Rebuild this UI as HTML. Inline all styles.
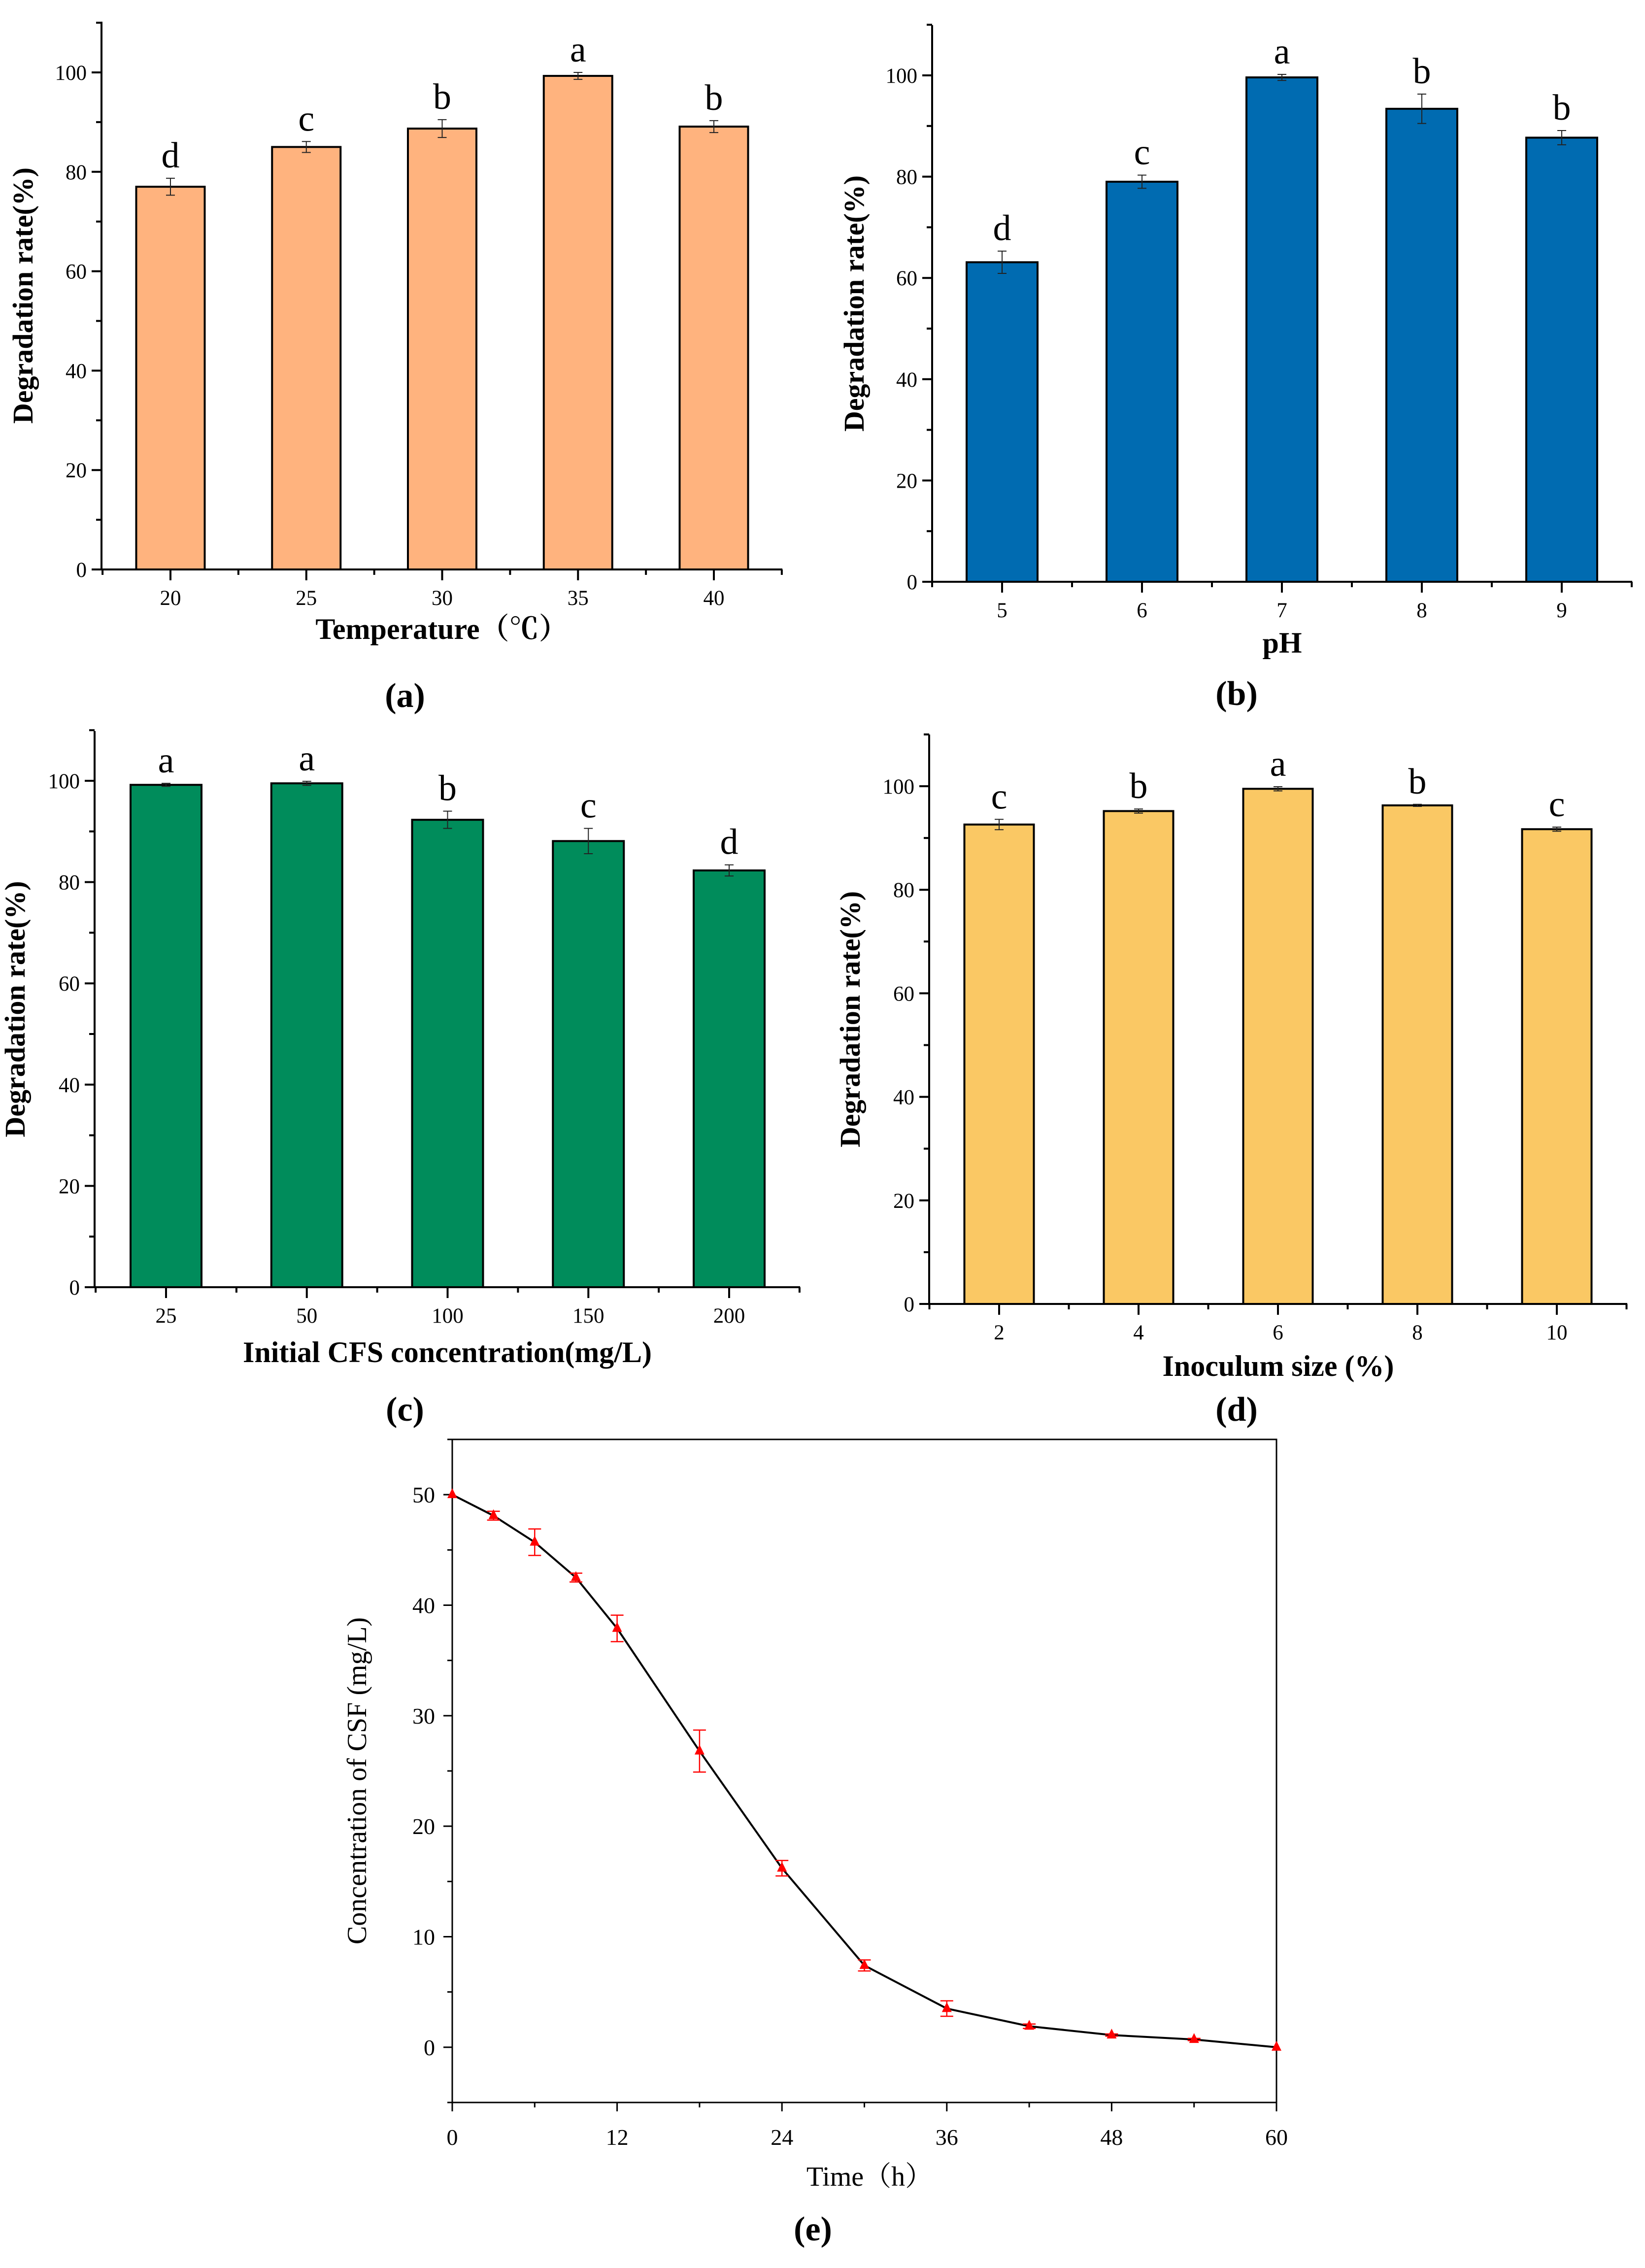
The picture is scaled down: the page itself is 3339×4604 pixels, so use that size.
<!DOCTYPE html>
<html><head><meta charset="utf-8"><title>Degradation figure</title>
<style>
html,body{margin:0;padding:0;background:#fff;}
svg{display:block;font-family:"Liberation Serif","Noto Serif CJK SC",serif;}
</style></head>
<body>
<svg id="fig" width="3339" height="4604" viewBox="0 0 3339 4604" xmlns="http://www.w3.org/2000/svg"></svg>
<script>
// ---- Panel (a) data ----
const aCategories = ["20","25","30","35","40"];
const aValues = [77.0, 85.0, 88.7, 99.3, 89.1];
const aErrors = [1.7, 1.1, 1.8, 0.7, 1.2];
const aLetters = ["d","c","b","a","b"];
// ---- Panel (b) data ----
const bCategories = ["5","6","7","8","9"];
const bValues = [63.1, 79.0, 99.6, 93.4, 87.7];
const bErrors = [2.2, 1.3, 0.6, 2.9, 1.4];
const bLetters = ["d","c","a","b","b"];
// ---- Panel (c) data ----
const cCategories = ["25","50","100","150","200"];
const cValues = [99.2, 99.5, 92.3, 88.1, 82.3];
const cErrors = [0.3, 0.4, 1.7, 2.5, 1.1];
const cLetters = ["a","a","b","c","d"];
// ---- Panel (d) data ----
const dCategories = ["2","4","6","8","10"];
const dValues = [92.6, 95.2, 99.5, 96.3, 91.7];
const dErrors = [1.0, 0.4, 0.4, 0.2, 0.4];
const dLetters = ["c","b","a","b","c"];
const barTicks = [0, 20, 40, 60, 80, 100];
// ---- Panel (e) data ----
const eTimes = [0, 3, 6, 9, 12, 18, 24, 30, 36, 42, 48, 54, 60];
const eConc = [50, 48.1, 45.7, 42.5, 37.9, 26.8, 16.2, 7.4, 3.5, 1.9, 1.1, 0.7, 0];
const eErr = [0, 0.4, 1.2, 0.4, 1.2, 1.9, 0.7, 0.5, 0.7, 0.2, 0.1, 0.1, 0];
const eXTicks = [0, 12, 24, 36, 48, 60];
const eYTicks = [0, 10, 20, 30, 40, 50];

const NS = "http://www.w3.org/2000/svg";
const svg = document.getElementById("fig");
function mk(tag, attrs, parent, text) {
  const e = document.createElementNS(NS, tag);
  for (const k in attrs) e.setAttribute(k, attrs[k]);
  if (text !== undefined) e.textContent = text;
  (parent || svg).appendChild(e);
  return e;
}

function barPanel(cfg, cats, vals, errs, letters) {
  const g = mk("g", {});
  
  
  const n = cats.length;
  const step = (cfg.c1 - cfg.c0) / (n - 1);
  const xs = i => cfg.c0 + i * step;
  const ys = v => cfg.y0 + (cfg.y100 - cfg.y0) * v / 100;
  for (let i = 0; i < n; i++) {
    const top = ys(vals[i]);
    const r = mk("rect", {x: xs(i) - cfg.bw / 2, y: top, width: cfg.bw, height: cfg.y0 - top, fill: cfg.color, stroke: "#000", "stroke-width": 4}, g);
    
    
    const e1 = ys(vals[i] + errs[i]), e2 = ys(vals[i] - errs[i]);
    const eb = mk("path", {d: `M${xs(i)},${e1}V${e2}M${xs(i)-9},${e1}H${xs(i)+9}M${xs(i)-9},${e2}H${xs(i)+9}`, stroke: "#222", "stroke-width": 2, fill: "none"}, g);
    
    
    const lt = mk("text", {x: xs(i), y: e1 - 22, "text-anchor": "middle", "font-size": 74}, g, letters[i]);
    
    
    const tl = mk("text", {x: xs(i), y: cfg.y0 + 72, "text-anchor": "middle", "font-size": 43}, g, cats[i]);
    
    
  }
  let d = `M${cfg.ax},${cfg.top}V${cfg.y0}H${cfg.right}`;
  for (let v = 0; v <= 110; v += 10) {
    const len = v % 20 === 0 ? 20 : 11;
    d += `M${cfg.ax},${ys(v)}h${-len}`;
  }
  for (let i = 0; i < n; i++) d += `M${xs(i)},${cfg.y0}v22`;
  for (let i = 0; i <= n; i++) d += `M${xs(i) - step / 2},${cfg.y0}v11`;
  const axes = mk("path", {d: d, stroke: "#000", "stroke-width": 4, fill: "none"}, g);
  
  
  for (const t of barTicks) {
    const yl = mk("text", {x: cfg.ax - 30, y: ys(t) + 15, "text-anchor": "end", "font-size": 43}, g, String(t));
    
    
  }
  const yt = mk("text", {x: 0, y: 0, transform: `translate(${cfg.ylx},${(cfg.top + cfg.y0) / 2}) rotate(-90)`, "text-anchor": "middle", "font-size": 58, "font-weight": "bold"}, g, "Degradation rate(%)");
  
  
  const xt = mk("text", {x: (cfg.ax + cfg.right) / 2, y: cfg.titleY, "text-anchor": "middle", "font-size": 60, "font-weight": "bold"}, g, cfg.xtitle);
  
  
  const pl = mk("text", {x: cfg.labelX, y: cfg.labelY, "text-anchor": "middle", "font-size": 70, "font-weight": "bold"}, g, cfg.label);
  
  
}

barPanel({name: "panel-a", color: "#FFB37E", ax: 206, top: 44, y0: 1156, y100: 147, right: 1588, c0: 346, c1: 1449, bw: 139, ylx: 66, titleY: 1297, xtitle: "Temperature（℃）", label: "(a)", labelX: 822, labelY: 1435}, aCategories, aValues, aErrors, aLetters);
barPanel({name: "panel-b", color: "#006BB1", ax: 1892, top: 51, y0: 1181, y100: 153, right: 3313, c0: 2034, c1: 3170, bw: 144, ylx: 1753, titleY: 1325, xtitle: "pH", label: "(b)", labelX: 2510, labelY: 1431}, bCategories, bValues, bErrors, bLetters);
barPanel({name: "panel-c", color: "#008C5B", ax: 192, top: 1484, y0: 2613, y100: 1585, right: 1624, c0: 337, c1: 1480, bw: 144, ylx: 50, titleY: 2765, xtitle: "Initial CFS concentration(mg/L)", label: "(c)", labelX: 822, labelY: 2884}, cCategories, cValues, cErrors, cLetters);
barPanel({name: "panel-d", color: "#FAC864", ax: 1886, top: 1491, y0: 2647, y100: 1596, right: 3303, c0: 2028, c1: 3160, bw: 141, ylx: 1745, titleY: 2793, xtitle: "Inoculum size (%)", label: "(d)", labelX: 2510, labelY: 2884}, dCategories, dValues, dErrors, dLetters);

(function () {
  const L = 918, R = 2591, T = 2922, B = 4268;
  const xs = t => L + (R - L) * t / 60;
  const ys = v => B - (B - T) * (v + 5) / 60;
  const g = mk("g", {});
  
  
  let d = `M${L},${T}H${R}V${B}H${L}Z`;
  for (let v = -5; v <= 55; v += 5) d += `M${L},${ys(v)}h${v % 10 === 0 ? -18 : -10}`;
  for (let t = 0; t <= 60; t += 6) d += `M${xs(t)},${B}v${t % 12 === 0 ? 18 : 10}`;
  const ax = mk("path", {d: d, stroke: "#000", "stroke-width": 3, fill: "none"}, g);
  
  
  for (const v of eYTicks) {
    const t = mk("text", {x: L - 35, y: ys(v) + 16, "text-anchor": "end", "font-size": 46}, g, String(v));
    
    
  }
  for (const v of eXTicks) {
    const t = mk("text", {x: xs(v), y: B + 86, "text-anchor": "middle", "font-size": 46}, g, String(v));
    
    
  }
  const pts = eTimes.map((t, i) => `${xs(t)},${ys(eConc[i])}`).join(" ");
  const line = mk("polyline", {points: pts, stroke: "#000", "stroke-width": 4, fill: "none"}, g);
  
  
  eTimes.forEach((t, i) => {
    const x = xs(t), y = ys(eConc[i]);
    if (eErr[i] > 0) {
      const y1 = ys(eConc[i] + eErr[i]), y2 = ys(eConc[i] - eErr[i]);
      const eb = mk("path", {d: `M${x},${y1}V${y2}M${x-13},${y1}H${x+13}M${x-13},${y2}H${x+13}`, stroke: "#f00", "stroke-width": 2.5, fill: "none"}, g);
      
      
    }
    const m = mk("polygon", {points: `${x},${y-13} ${x-10},${y+7} ${x+10},${y+7}`, fill: "#f00"}, g);
    
    
  });
  const yt = mk("text", {x: 0, y: 0, transform: `translate(743,${(T + B) / 2 + 20}) rotate(-90)`, "text-anchor": "middle", "font-size": 56}, g, "Concentration of CSF (mg/L)");
  
  
  const xt = mk("text", {x: 1765, y: 4437, "text-anchor": "middle", "font-size": 56}, g, "Time（h）");
  
  
  const pl = mk("text", {x: 1650, y: 4548, "text-anchor": "middle", "font-size": 70, "font-weight": "bold"}, g, "(e)");
  
  
})();
</script>
</body></html>
